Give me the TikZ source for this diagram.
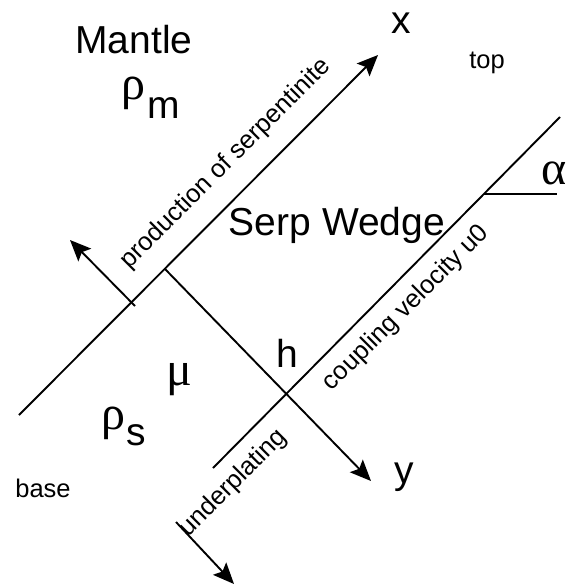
\documentclass[tikz,border=0pt]{standalone}
\usepackage{fontspec}
\setmainfont{Liberation Sans}
\newfontfamily\grk{Liberation Serif}
\usetikzlibrary{arrows.meta}
\begin{document}
\begin{tikzpicture}[x=1pt,y=-1pt,
  ax/.style={line width=1.9pt},
  arr/.style={ax,-{Stealth[length=21pt,width=18pt,inset=4pt]}},
  big/.style={font=\fontsize{39}{44}\selectfont, inner sep=0pt},
  small/.style={font=\fontsize{25.5}{30}\selectfont, inner sep=0pt},
  grkbig/.style={font=\fontsize{48}{52}\selectfont\grk, inner sep=0pt},
]
\useasboundingbox (0,0) rectangle (571,587);
\coordinate (U0) at (19,415);
\coordinate (X) at (378,55);
\coordinate (F) at (165,269);
\coordinate (L0) at (135,306);
\coordinate (L1) at (70,240);
\coordinate (C) at (287,394);
\coordinate (Y) at (371,481);
\coordinate (B0) at (213,468);
\coordinate (T) at (560,117);
\coordinate (A0) at (484,194);
\coordinate (A1) at (557,194);
\coordinate (P0) at (176,522);
\coordinate (P1) at (234,584);

\draw[arr] (U0) -- (X);
\draw[arr] (L0) -- (L1);
\draw[arr] (F) -- (Y);
\draw[ax] (B0) -- (T);
\draw[ax] (A0) -- (A1);
\draw[arr] (P0) -- (P1);

\node[big, anchor=base] (mantle) at (134,53) {Mantle};
\node[grkbig, anchor=base west] (rhom) at (121,99) {ρ};
\node[big, anchor=base west] (m) at (147,118) {m};
\node[grkbig, anchor=base west] (rhos) at (101,429) {ρ};
\node[big, anchor=base west] (s) at (126,445) {s};
\node[grkbig, anchor=base west] (mu) at (166,385) {μ};
\node[big, anchor=base] (h) at (287,367) {h};
\node[big, anchor=base] (xl) at (401,33) {x};
\node[big, anchor=base] (yl) at (404,483) {y};
\node[small, anchor=base] (top) at (487,68) {top};
\node[small, anchor=base] (base) at (43,497) {base};
\node[big, anchor=base] (serp) at (337,235) {Serp Wedge};
\node[grkbig, anchor=base] (alpha) at (554,184) {α};
\node[small, rotate=45] (prod) at (226,164) {production of serpentinite};
\node[small, rotate=45] (coup) at (406,308) {coupling velocity u0};
\node[small, rotate=45] (under) at (233,483) {underplating};
\end{tikzpicture}
\end{document}
